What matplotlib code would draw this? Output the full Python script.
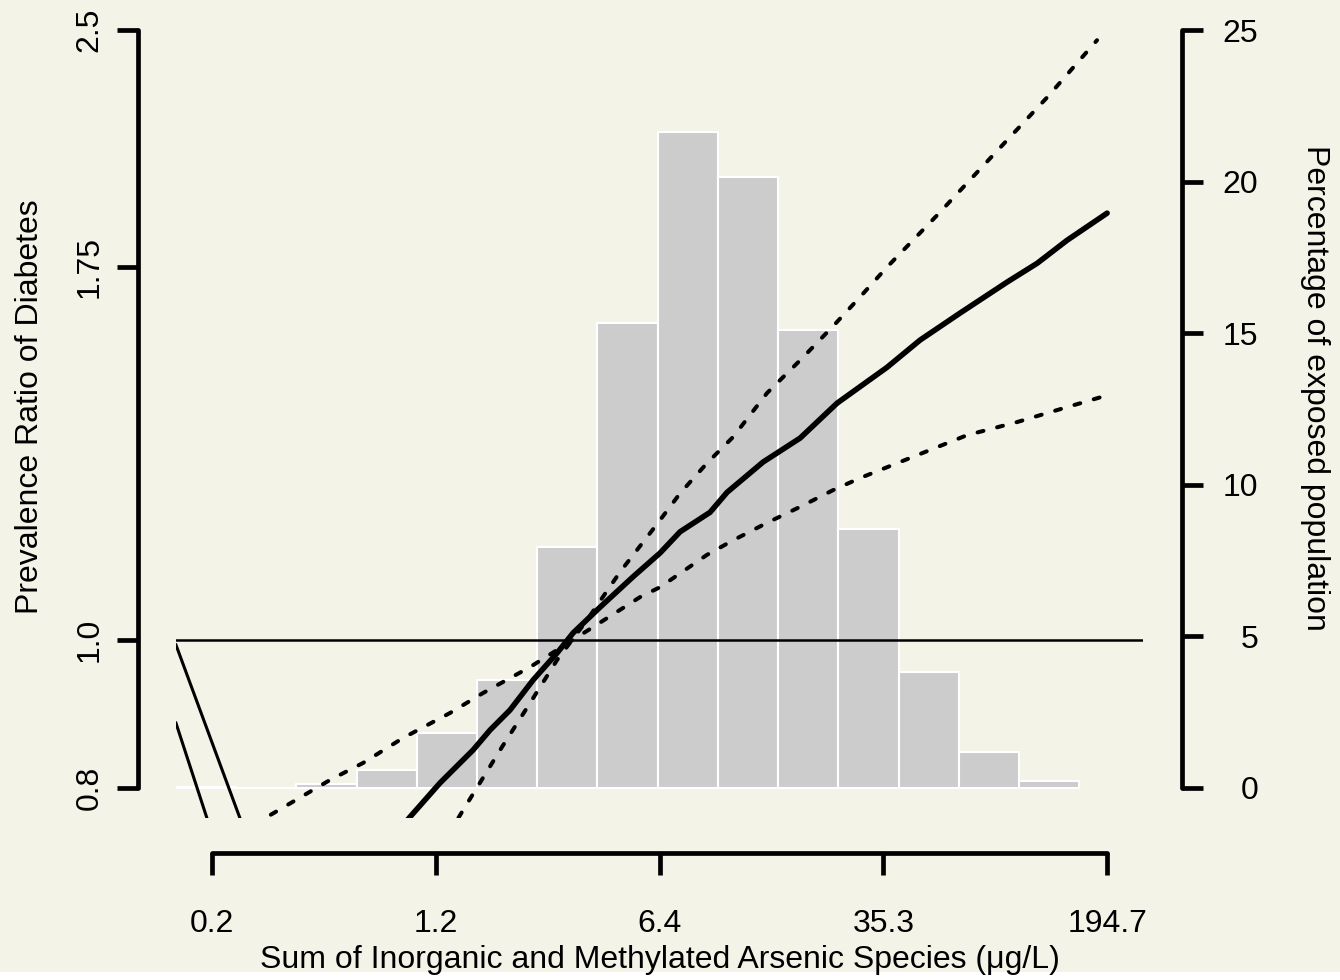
import matplotlib
matplotlib.use("Agg")
import matplotlib.pyplot as plt
from matplotlib.patches import Rectangle
import numpy as np

plt.rcParams['font.family'] = ['Liberation Sans', 'DejaVu Sans']

# --- datos (x en log de la concentracion, y = razon de prevalencia) ---
conc_min = 0.2104
conc_max = 194.7
x_tick_labels = ['0.2', '1.2', '6.4', '35.3', '194.7']

pr_ticks = [0.8, 1.0, 1.75, 2.5]
pr_tick_labels = ['0.8', '1.0', '1.75', '2.5']
pct_ticks = [0, 5, 10, 15, 20, 25]

# histograma de la poblacion expuesta (%)
hist_left = -1.832
hist_width = 0.4593
hist_pct = [0.02, 0.0, 0.12, 0.59, 1.81, 3.56, 7.95, 15.34, 21.64, 20.15,
            15.1, 8.54, 3.83, 1.19, 0.23]

# curva estimada
fit_x = [-0.161, -0.047, 0.182, 0.434, 0.564, 0.716, 0.892, 1.075, 1.197, 1.403,
         1.654, 1.860, 2.013, 2.242, 2.372, 2.646, 2.929, 3.211, 3.592, 3.844,
         4.149, 4.508, 4.737, 4.965, 5.271]
fit_y = [0.7455, 0.7659, 0.8061, 0.8470, 0.8729, 0.8995, 0.9410, 0.980, 1.010, 1.050,
         1.099, 1.139, 1.176, 1.211, 1.248, 1.306, 1.354, 1.427, 1.506, 1.569,
         1.634, 1.712, 1.761, 1.823, 1.899]

# intervalo de confianza (dos curvas punteadas)
ci_a_x = [-1.374, -1.138, -0.657, -0.405, -0.100, 0.258, 0.510, 0.869, 1.098, 1.349,
          1.708, 1.860, 2.219, 2.417, 2.677, 2.929, 3.180, 3.386, 4.203, 4.584,
          4.935, 5.271]
ci_a_y = [0.7455, 0.7659, 0.8097, 0.8307, 0.8625, 0.8955, 0.9228, 0.9596, 0.9874, 1.019,
          1.066, 1.082, 1.136, 1.161, 1.192, 1.221, 1.252, 1.275, 1.360, 1.387,
          1.416, 1.444]

ci_b_x = [0.243, 0.373, 0.655, 0.869, 1.075, 1.304, 1.555, 1.845, 2.013, 2.219,
          2.417, 2.677, 2.929, 3.180, 3.386, 3.592, 3.974, 4.401, 4.813, 5.194]
ci_b_y = [0.7455, 0.7775, 0.8509, 0.9091, 0.9698, 1.030, 1.107, 1.192, 1.246, 1.304,
          1.356, 1.449, 1.522, 1.602, 1.674, 1.751, 1.893, 2.072, 2.260, 2.463]

# tramos rectos del borde izquierdo
edge1_x = [-1.832, -1.283]
edge1_y = [0.992, 0.740]
edge2_x = [-1.832, -1.542]
edge2_y = [0.882, 0.740]

bg = '#F3F3E8'
fs = 23
fig = plt.figure(figsize=(13.4, 9.8), dpi=100, facecolor='white')
fig.patches.append(Rectangle((0, 8 / 980), 1, 1, transform=fig.transFigure,
                             facecolor=bg, edgecolor='none', zorder=-10))

rect = [176 / 1340, 1 - 818.3 / 980, 967 / 1340, 818.3 / 980]
x_lo = np.log(conc_min)
x_hi = np.log(conc_max)
pad_x = 0.04 * (x_hi - x_lo)
xlim = (x_lo - pad_x, x_hi + pad_x)
x_ticks = np.linspace(x_lo, x_hi, 5)

lw_axis = 3.4
tick_len = 15

# eje del histograma (derecha)
axh = fig.add_axes(rect)
axh.patch.set_visible(False)
edges = hist_left + hist_width * np.arange(len(hist_pct))
axh.bar(edges, hist_pct, width=hist_width, align='edge', color='#CCCCCC',
        edgecolor='white', linewidth=1.5)
axh.set_xlim(xlim)
axh.set_ylim(-1, 26)
for s in ['left', 'top', 'bottom']:
    axh.spines[s].set_visible(False)
axh.spines['right'].set_position(('outward', 28))
axh.spines['right'].set_bounds(0, 25)
axh.spines['right'].set_linewidth(lw_axis)
axh.spines['right'].set_capstyle('round')
axh.yaxis.tick_right()
axh.set_yticks(pct_ticks)
axh.set_yticklabels([str(v) for v in pct_ticks])
axh.set_xticks([])
axh.tick_params(axis='y', length=tick_len, width=lw_axis, labelsize=fs, pad=40)
for lbl in axh.get_yticklabels():
    lbl.set_ha('right')

# eje principal (razon de prevalencia)
ax = fig.add_axes(rect)
ax.patch.set_visible(False)
ax.set_yscale('log')
ax.set_xlim(xlim)
ax.set_ylim(np.exp(np.log(0.8) - 0.04 * np.log(2.5 / 0.8)),
            np.exp(np.log(2.5) + 0.04 * np.log(2.5 / 0.8)))

ax.axhline(1.0, color='black', lw=1.8)
ax.plot(edge1_x, edge1_y, color='black', lw=2.2)
ax.plot(edge2_x, edge2_y, color='black', lw=2.2)
ax.plot(ci_a_x, ci_a_y, color='black', lw=2.9, dashes=(1.5, 3.5), dash_capstyle='round')
ax.plot(ci_b_x, ci_b_y, color='black', lw=2.9, dashes=(1.5, 3.5), dash_capstyle='round')
ax.plot(fit_x, fit_y, color='black', lw=4, solid_capstyle='round', solid_joinstyle='round')

for s in ['right', 'top']:
    ax.spines[s].set_visible(False)
ax.spines['left'].set_position(('outward', 27.4))
ax.spines['left'].set_bounds(0.8, 2.5)
ax.spines['bottom'].set_position(('outward', 25.2))
ax.spines['bottom'].set_bounds(x_ticks[0], x_ticks[-1])
for s in ['left', 'bottom']:
    ax.spines[s].set_linewidth(lw_axis)
    ax.spines[s].set_capstyle('round')

ax.yaxis.set_minor_locator(matplotlib.ticker.NullLocator())
ax.set_yticks(pr_ticks)
ax.set_yticklabels(pr_tick_labels)
ax.set_xticks(x_ticks)
ax.set_xticklabels(x_tick_labels)
ax.tick_params(axis='y', length=tick_len, width=lw_axis, labelsize=fs, pad=9)
ax.tick_params(axis='x', length=16, width=lw_axis, labelsize=fs, pad=24)
for lbl in ax.get_yticklabels():
    lbl.set_rotation(90)
    lbl.set_va('center')

fig.text(38 / 1340, 1 - 407 / 980, 'Prevalence Ratio of Diabetes', rotation=90,
         rotation_mode='anchor', ha='center', va='baseline', fontsize=fs)
fig.text(1307 / 1340, 1 - 388 / 980, 'Percentage of exposed population', rotation=270,
         rotation_mode='anchor', ha='center', va='baseline', fontsize=fs)
fig.text(659.5 / 1340, 1 - 968 / 980,
         'Sum of Inorganic and Methylated Arsenic Species (\u03bcg/L)',
         ha='center', va='baseline', fontsize=fs)

fig.savefig('out.png', dpi=100, facecolor=fig.get_facecolor())
